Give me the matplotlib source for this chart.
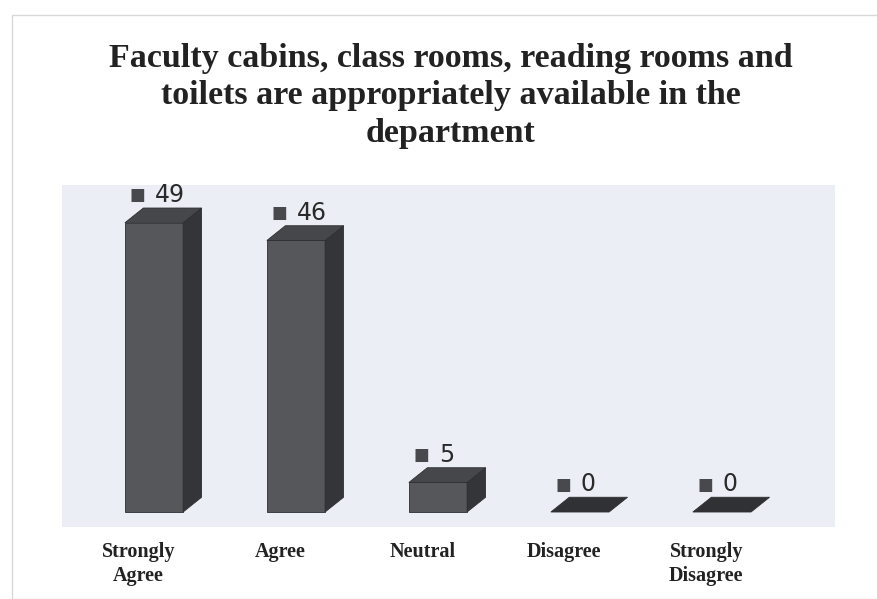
import matplotlib.pyplot as plt
from matplotlib.patches import Polygon, Rectangle

# Data
categories = ['Strongly\nAgree', 'Agree', 'Neutral', 'Disagree', 'Strongly\nDisagree']
responses = [49, 46, 5, 0, 0]
title = ('Faculty cabins, class rooms, reading rooms and\n'
         'toilets are appropriately available in the\n'
         'department')

# 3D bar look
bar_w = 0.41
dx, dy = 0.13, 2.5
front_col = '#55575b'
side_col = '#333538'
top_col = '#45474b'

fig = plt.figure(figsize=(8.78, 5.99), dpi=100)
fig.patch.set_facecolor('white')

# faint slide border
fig.patches.append(Rectangle((12 / 878, 0), 1, 1 - 15 / 599, transform=fig.transFigure,
                             fill=False, edgecolor='#d8d8d8', linewidth=1.0))

ax = fig.add_axes([62 / 878, 72 / 599, 773 / 878, 342 / 599])
ax.set_facecolor('#eceef6')
ax.set_xlim(-0.648, 4.796)
ax.set_ylim(-2.54, 55.4)

for i, v in enumerate(responses):
    x0 = i - bar_w / 2
    x1 = i + bar_w / 2
    if v > 0:
        # front face
        ax.add_patch(Polygon([(x0, 0), (x1, 0), (x1, v), (x0, v)], closed=True,
                             facecolor=front_col, edgecolor='#2e2f32', linewidth=0.6))
        # side face
        ax.add_patch(Polygon([(x1, 0), (x1 + dx, dy), (x1 + dx, v + dy), (x1, v)], closed=True,
                             facecolor=side_col, edgecolor='#2e2f32', linewidth=0.6))
    # top face
    ax.add_patch(Polygon([(x0, v), (x1, v), (x1 + dx, v + dy), (x0 + dx, v + dy)], closed=True,
                         facecolor=top_col if v > 0 else '#2f3134', edgecolor='#2e2f32',
                         linewidth=0.6))
    # value label with legend key square
    ax.text(x0 + 0.03, v + dy + 0.6, '\u25A0', fontsize=12, color='#47494d',
            ha='left', va='bottom')
    ax.text(x0 + 0.21, v + dy + 0.2, str(v), fontsize=17, color='#2a2a2a',
            ha='left', va='bottom', family='DejaVu Sans')

ax.set_xticks([i - 0.11 for i in range(len(categories))])
ax.set_xticklabels(categories, family='Liberation Serif', fontweight='bold', fontsize=14.5,
                   linespacing=1.25, color='#222222')
ax.tick_params(axis='x', length=0, pad=11)
ax.set_yticks([])
for s in ax.spines.values():
    s.set_visible(False)

fig.text(0.513, 1 - 43 / 599, title, ha='center', va='top', family='Liberation Serif',
         fontweight='bold', fontsize=24.5, linespacing=1.27, color='#222222')

fig.savefig('out.png', dpi=100)
